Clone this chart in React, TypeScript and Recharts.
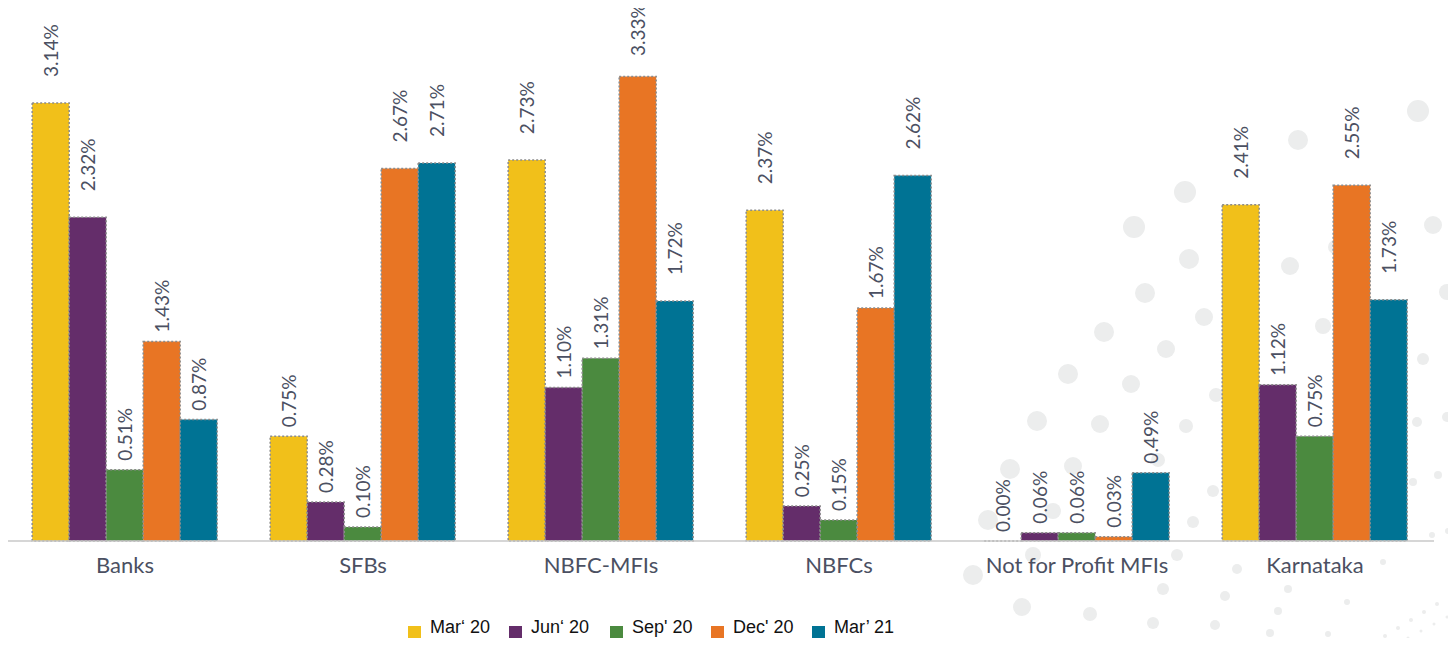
import React from "react";
import { BarChart, Bar, XAxis, YAxis, Legend } from "recharts";

const categories = ["Banks", "SFBs", "NBFC-MFIs", "NBFCs", "Not for Profit MFIs", "Karnataka"];
const mar20 = [3.14, 0.75, 2.73, 2.37, 0.0, 2.41];
const jun20 = [2.32, 0.28, 1.1, 0.25, 0.06, 1.12];
const sep20 = [0.51, 0.1, 1.31, 0.15, 0.06, 0.75];
const dec20 = [1.43, 2.67, 3.33, 1.67, 0.03, 2.55];
const mar21 = [0.87, 2.71, 1.72, 2.62, 0.49, 1.73];

const series = [
  { key: "mar20", name: "Mar\u2018 20", color: "#F1C01A", values: mar20 },
  { key: "jun20", name: "Jun\u2018 20", color: "#642D6A", values: jun20 },
  { key: "sep20", name: "Sep' 20", color: "#4B8A3F", values: sep20 },
  { key: "dec20", name: "Dec' 20", color: "#E87524", values: dec20 },
  { key: "mar21", name: "Mar\u2019 21", color: "#007394", values: mar21 },
];

const data = categories.map((name, i) => {
  const row: Record<string, string | number> = { name };
  series.forEach((s) => {
    row[s.key] = s.values[i];
  });
  return row;
});

// decorative background dots (x, y, r)
const bgDots: [number, number, number][] = [
  [1418, 111, 11], [1298, 140, 10], [1185, 192, 11], [1134, 227, 11], [1189, 259, 10],
  [1290, 266, 9], [1433, 225, 9], [1335, 247, 7], [1145, 293, 10], [1204, 317, 9],
  [1323, 326, 8], [1447, 292, 8], [1104, 332, 10], [1166, 349, 9], [1068, 374, 10],
  [1131, 384, 9], [1216, 395, 7], [1423, 359, 6], [1456, 354, 6], [1037, 421, 10],
  [1100, 424, 9], [1186, 426, 7], [1417, 422, 5], [1447, 417, 5], [1010, 469, 10],
  [1073, 466, 9], [1158, 460, 7], [1213, 491, 6], [1413, 482, 4], [1438, 475, 4],
  [988, 520, 10], [1053, 511, 8], [1193, 522, 6], [1432, 535, 3], [1448, 531, 3],
  [973, 575, 10], [1033, 555, 8], [1177, 555, 6], [1237, 569, 5], [1383, 562, 3],
  [1022, 607, 9], [1090, 614, 7], [1163, 589, 6], [1153, 623, 6], [1225, 596, 5],
  [1215, 625, 5], [1288, 589, 4], [1278, 611, 4], [1347, 602, 3], [1270, 633, 4],
  [1328, 634, 3], [1385, 636, 2], [1398, 628, 2], [1411, 620, 2], [1424, 612, 2],
  [1437, 604, 2], [1450, 596, 2], [1395, 645, 1.5], [1408, 638, 1.5], [1421, 631, 1.5],
  [1434, 624, 1.5], [1447, 617, 1.5],
];

const textColor = "#4B5062";

const BarLabel = (props: any) => {
  const { x, y, width, value } = props;
  const v = Number(value);
  const cx = Number(x) + Number(width) / 2;
  const gap = v > 1.7 ? Math.min(26, Number(y) - 56) : 9;
  const ty = Number(y) - gap;
  return (
    <text
      x={cx}
      y={ty}
      transform={`rotate(-90 ${cx} ${ty})`}
      textAnchor="start"
      dominantBaseline="central"
      fill={textColor}
      fontSize={19}
      fontFamily="Lato, sans-serif"
    >
      {v.toFixed(2)}%
    </text>
  );
};

const renderLegend = () => (
  <div style={{ display: "flex", paddingLeft: 402, paddingTop: 8, fontFamily: "'Liberation Sans', Arial, sans-serif" }}>
    {series.map((s) => (
      <div key={s.key} style={{ width: 101, display: "flex", alignItems: "flex-start", height: 26 }}>
        <span style={{ width: 13, height: 14, background: s.color, marginTop: 12, marginRight: 9, flex: "none" }} />
        <span style={{ fontSize: 18, lineHeight: "26px", color: "#111" }}>{s.name}</span>
      </div>
    ))}
  </div>
);

export default function App() {
  return (
    <div style={{ margin: -8, position: "relative", width: 1456, height: 646, background: "#fff", overflow: "hidden" }}>
      <svg width={1456} height={646} style={{ position: "absolute", left: 0, top: 0 }}>
        {bgDots.map(([x, y, r], i) => (
          <circle key={i} cx={x} cy={y} r={r} fill="#ECEDED" />
        ))}
      </svg>
      <div style={{ position: "absolute", left: 0, top: 0 }}>
        <BarChart
          width={1456}
          height={646}
          data={data}
          margin={{ top: 10, right: 22, bottom: 0, left: 6 }}
          barGap={0}
          barCategoryGap="11%"
        >
          <XAxis
            dataKey="name"
            tickLine={false}
            axisLine={{ stroke: "#C9C9C9", strokeWidth: 1.5 }}
            height={65}
            tickMargin={10}
            tick={{ fill: textColor, fontSize: 22, fontFamily: "Lato, sans-serif" }}
            interval={0}
          />
          <YAxis hide domain={[0, 3.806]} />
          <Legend verticalAlign="bottom" height={40} content={renderLegend} />
          {series.map((s) => (
            <Bar
              key={s.key}
              dataKey={s.key}
              name={s.name}
              fill={s.color}
              stroke="#8C8C8C"
              strokeWidth={1.5}
              strokeDasharray="2 2"
              minPointSize={0.01}
              isAnimationActive={false}
              label={BarLabel}
            />
          ))}
        </BarChart>
      </div>
    </div>
  );
}
